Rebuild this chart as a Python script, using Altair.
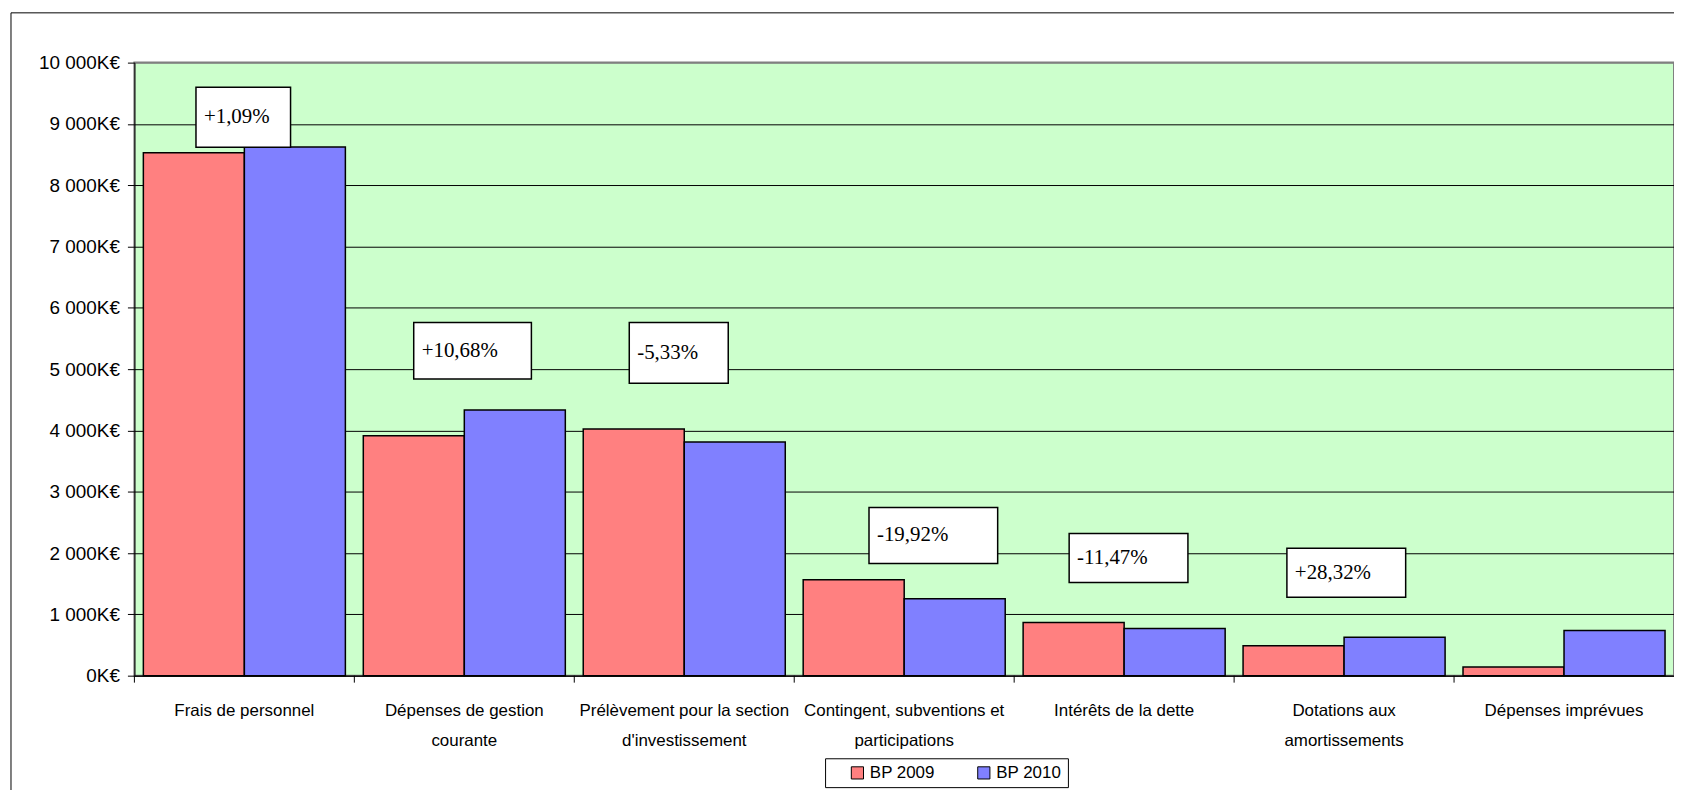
import altair as alt
import pandas as pd

# ---- data ----
categories = [
    "Frais de personnel",
    "Dépenses de gestion\ncourante",
    "Prélèvement pour la section\nd'investissement",
    "Contingent, subventions et\nparticipations",
    "Intérêts de la dette",
    "Dotations aux\namortissements",
    "Dépenses imprévues",
]
series = ["BP 2009", "BP 2010"]
bp2009 = [8530, 3915, 4025, 1565, 868, 488, 141]
bp2010 = [8623, 4333, 3810, 1253, 768, 626, 735]

# annotation boxes (variation labels)
pct_labels = ["+1,09%", "+10,68%", "-5,33%", "-19,92%", "-11,47%", "+28,32%"]
box_left = [0.28, 1.27, 2.25, 3.34, 4.25, 5.24]      # in category units
box_right = [0.71, 1.805, 2.70, 3.925, 4.79, 5.78]
box_top = [9600, 5760, 5760, 2745, 2320, 2080]        # in K€
box_bottom = [8620, 4840, 4770, 1830, 1520, 1280]

SANS = "Liberation Sans, Arial, sans-serif"
SERIF = "Liberation Serif, Times New Roman, serif"

bars_df = pd.DataFrame(
    [{"cat": c, "series": series[0], "value": v} for c, v in zip(categories, bp2009)]
    + [{"cat": c, "series": series[1], "value": v} for c, v in zip(categories, bp2010)]
)
cats_df = pd.DataFrame({"cat": categories})
boxes_df = pd.DataFrame({
    "label": pct_labels, "x1": box_left, "x2": box_right,
    "top": box_top, "bottom": box_bottom,
})

W, H = 1547, 616

x_axis = alt.Axis(
    title=None, labelAngle=0, ticks=False, tickSize=0, labelPadding=27,
    labelExpr="split(datum.label, '\\n')", labelLineHeight=30,
    labelFont=SANS, labelFontSize=17, labelColor="black", labelLimit=0,
    domainColor="black", domainWidth=1, grid=False,
)
x_band = alt.X("cat:N", sort=categories, axis=x_axis,
               scale=alt.Scale(paddingInner=0, paddingOuter=0))

y_axis = alt.Axis(
    title=None, values=list(range(0, 10001, 1000)),
    labelExpr="replace(format(datum.value, ','), ',', ' ') + 'K€'",
    tickSize=7, tickColor="black", labelPadding=8,
    domainColor="black", domainWidth=1,
    labelFont=SANS, labelFontSize=19, labelColor="black",
    grid=True, gridWidth=1,
    gridColor={"condition": {"test": "datum.value >= 10000", "value": "#808080"}, "value": "black"},
)
y_scale = alt.Scale(domain=[0, 10000], nice=False)

bars = alt.Chart(bars_df).mark_bar(stroke="black", strokeWidth=1.5).encode(
    x=x_band,
    xOffset=alt.XOffset("series:N", sort=series,
                        scale=alt.Scale(paddingOuter=0.0887, paddingInner=0)),
    y=alt.Y("value:Q", scale=y_scale, axis=y_axis),
    color=alt.Color(
        "series:N",
        scale=alt.Scale(domain=series, range=["#FF8080", "#8080FF"]),
        legend=alt.Legend(
            title=None, orient="none", legendX=694, legendY=699,
            direction="horizontal", strokeColor="black", fillColor="white",
            padding=6, symbolType="square", symbolSize=150,
            symbolStrokeColor="black", symbolStrokeWidth=1,
            symbolOffset=18, columnPadding=22, labelOffset=4,
            labelFont=SANS, labelFontSize=17, labelColor="black",
            labelExpr="datum.label + '\u00a0\u00a0\u00a0\u00a0'",
        ),
    ),
)

ticks = alt.Chart(cats_df).mark_rule(color="black", strokeWidth=1).encode(
    x=alt.X("cat:N", sort=categories, axis=x_axis, bandPosition=0,
            scale=alt.Scale(paddingInner=0, paddingOuter=0)),
    y=alt.value(H),
    y2=alt.value(H + 7),
)

x_q = alt.Scale(domain=[0, len(categories)], nice=False, zero=False)

boxes = alt.Chart(boxes_df).mark_rect(fill="white", stroke="black", strokeWidth=1.5).encode(
    x=alt.X("x1:Q", scale=x_q, axis=None),
    x2="x2:Q",
    y=alt.Y("top:Q", scale=y_scale, axis=y_axis),
    y2="bottom:Q",
)

texts = alt.Chart(boxes_df).transform_calculate(
    mid="(datum.top + datum.bottom) / 2"
).mark_text(
    align="left", baseline="middle", dx=8, font=SERIF, fontSize=21, color="black"
).encode(
    x=alt.X("x1:Q", scale=x_q, axis=None),
    y=alt.Y("mid:Q", scale=y_scale, axis=y_axis),
    text="label:N",
)

frame_df = pd.DataFrame({"k": [0]})
frame_left = alt.Chart(frame_df).mark_rule(color="black", strokeWidth=1).encode(
    x=alt.value(-124), y=alt.value(-50), y2=alt.value(H + 200)
)
frame_top = alt.Chart(frame_df).mark_rule(color="black", strokeWidth=1).encode(
    x=alt.value(-124), x2=alt.value(W + 10), y=alt.value(-50)
)

chart = alt.layer(
    alt.layer(bars, ticks),
    alt.layer(boxes, texts),
    frame_left, frame_top,
).resolve_scale(x="independent").properties(
    width=W, height=H,
    autosize=alt.AutoSizeParams(type="none"),
    padding={"left": 127, "top": 53, "right": 0, "bottom": 113},
    background="white",
).configure_view(
    fill="#CCFFCC", stroke="#808080", strokeWidth=2
)

chart.save("out.html", embed_options={"renderer": "svg", "actions": False})
